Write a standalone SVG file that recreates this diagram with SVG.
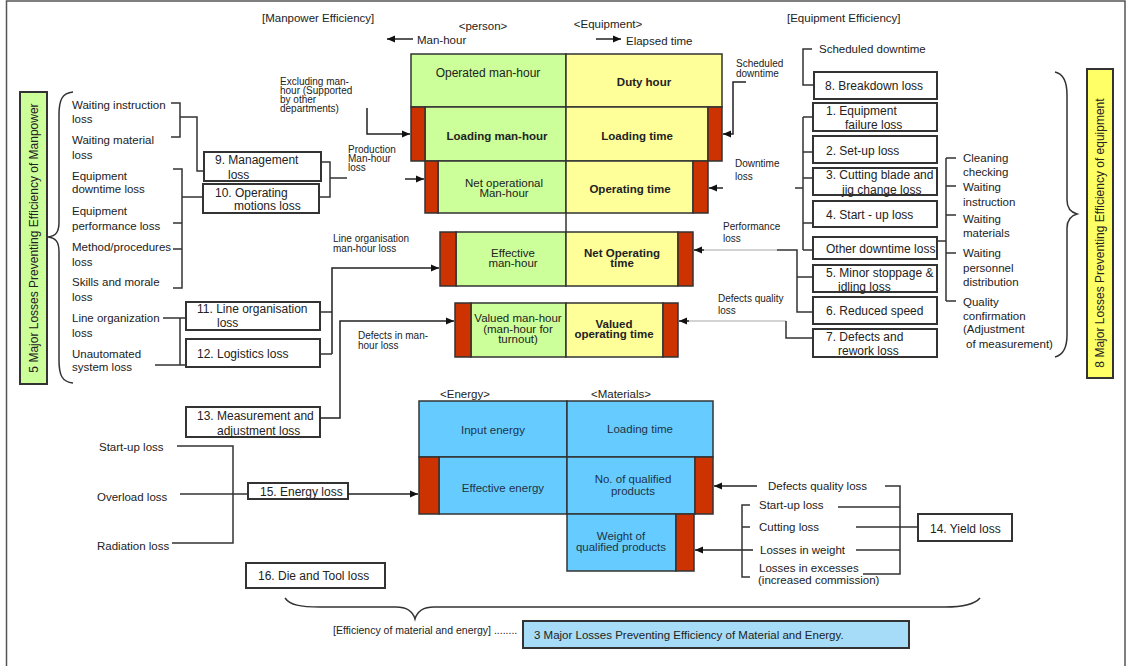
<svg xmlns="http://www.w3.org/2000/svg" width="1127" height="666" viewBox="0 0 1127 666">
  <style>
    text { font-family: "Liberation Sans", Arial, sans-serif; fill: #222; }
    .t { font-size: 11.5px; }
    .s { font-size: 10px; }
    .b { font-size: 12px; }
    .c { text-anchor: middle; }
    .bold { font-weight: bold; }
    .box { fill: #fff; stroke: #333; stroke-width: 2; }
    .g { fill: #ccff99; stroke: #333; stroke-width: 1.5; }
    .y { fill: #ffff99; stroke: #333; stroke-width: 1.5; }
    .r { fill: #cc3300; stroke: #333; stroke-width: 1.5; }
    .bl { fill: #66ccff; stroke: #333; stroke-width: 1.5; }
    .blt { fill: #1f3347; font-size: 11.5px; text-anchor: middle; }
    .ln { fill: none; stroke: #333; stroke-width: 1.5; }
    .gr { fill: none; stroke: #c4c4c4; stroke-width: 1.5; }
    .ar { fill: none; stroke: #222; stroke-width: 1.5; marker-end: url(#ah); }
  </style>
  <defs>
    <marker id="ah" viewBox="0 0 10 10" refX="10" refY="5" markerWidth="9" markerHeight="8" markerUnits="userSpaceOnUse" orient="auto">
      <path d="M0,0.5 L10,5 L0,9.5z" fill="#111"/>
    </marker>
  </defs>

  <rect width="1127" height="666" fill="#fff"/>
  <rect x="6.5" y="1" width="1118.5" height="680" fill="none" stroke="#555" stroke-width="1.5"/>

  <!-- headings -->
  <g id="headings">
    <text class="t" x="262" y="22">[Manpower Efficiency]</text>
    <text class="t" x="787" y="22">[Equipment Efficiency]</text>
    <text class="t c" x="483" y="30">&lt;person&gt;</text>
    <text class="t c" x="608" y="28">&lt;Equipment&gt;</text>
    <text class="t" x="417" y="44">Man-hour</text>
    <text class="t" x="626" y="45">Elapsed time</text>
  </g>

  <!-- manpower / equipment time table -->
  <g id="row-duty">
    <rect class="g" x="411" y="54" width="155" height="53"/>
    <rect class="y" x="566" y="54" width="156" height="53"/>
    <text class="b c" x="488" y="77">Operated man-hour</text>
    <text class="t c bold" x="644" y="86">Duty hour</text>
  </g>
  <g id="row-loading">
    <rect class="g" x="425" y="107" width="141" height="54"/>
    <rect class="y" x="566" y="107" width="142" height="54"/>
    <rect class="r" x="411" y="107" width="14" height="54"/>
    <rect class="r" x="708" y="107" width="14" height="54"/>
    <text class="t c bold" x="497" y="140">Loading man-hour</text>
    <text class="t c bold" x="637" y="140">Loading time</text>
  </g>
  <g id="row-operating">
    <rect class="g" x="438" y="161" width="128" height="52"/>
    <rect class="y" x="566" y="161" width="127" height="52"/>
    <rect class="r" x="425" y="161" width="13" height="52"/>
    <rect class="r" x="693" y="161" width="15" height="52"/>
    <text class="t c" x="504" y="187">Net operational</text>
    <text class="t c" x="504" y="197">Man-hour</text>
    <text class="t c bold" x="630" y="193">Operating time</text>
  </g>
  <g id="row-effective">
    <rect class="g" x="456" y="232" width="110" height="54"/>
    <rect class="y" x="566" y="232" width="112" height="54"/>
    <rect class="r" x="440" y="232" width="16" height="54"/>
    <rect class="r" x="678" y="232" width="15" height="54"/>
    <text class="t c" x="513" y="257">Effective</text>
    <text class="t c" x="513" y="267">man-hour</text>
    <text class="t c bold" x="622" y="257">Net Operating</text>
    <text class="t c bold" x="622" y="267">time</text>
  </g>
  <g id="row-valued">
    <rect class="g" x="471" y="303" width="95" height="54"/>
    <rect class="y" x="566" y="303" width="97" height="54"/>
    <rect class="r" x="455" y="303" width="16" height="54"/>
    <rect class="r" x="663" y="303" width="15" height="54"/>
    <text class="t c" x="518" y="322">Valued man-hour</text>
    <text class="t c" x="518" y="333">(man-hour for</text>
    <text class="t c" x="518" y="343">turnout)</text>
    <text class="t c bold" x="614" y="328">Valued</text>
    <text class="t c bold" x="614" y="338">operating time</text>
  </g>

  <!-- energy / materials table -->
  <g id="energy-table">
    <text class="t c" x="465" y="398">&lt;Energy&gt;</text>
    <text class="t c" x="621" y="398">&lt;Materials&gt;</text>
    <rect class="bl" x="419" y="401" width="148" height="56"/>
    <rect class="bl" x="567" y="401" width="146" height="56"/>
    <rect class="bl" x="439" y="457" width="128" height="57"/>
    <rect class="bl" x="567" y="457" width="128" height="57"/>
    <rect class="r" x="419" y="457" width="20" height="57"/>
    <rect class="r" x="695" y="457" width="18" height="57"/>
    <rect class="bl" x="567" y="514" width="109" height="57"/>
    <rect class="r" x="676" y="514" width="18" height="57"/>
    <text class="blt" x="493" y="434">Input energy</text>
    <text class="blt" x="640" y="433">Loading time</text>
    <text class="blt" x="503" y="492">Effective energy</text>
    <text class="blt" x="633" y="483">No. of qualified</text>
    <text class="blt" x="633" y="495">products</text>
    <text class="blt" x="621" y="540">Weight of</text>
    <text class="blt" x="621" y="551">qualified products</text>
  </g>

  <!-- side labels -->
  <g id="label-manpower">
    <rect x="20" y="92" width="27" height="292" fill="#ccff99" stroke="#333" stroke-width="2"/>
    <text class="b c" transform="translate(38,238) rotate(-90)">5 Major Losses Preventing Efficiency of Manpower</text>
  </g>
  <g id="label-equipment">
    <rect x="1087" y="69" width="26" height="309" fill="#ffff66" stroke="#333" stroke-width="2"/>
    <text class="b c" transform="translate(1104,233) rotate(-90)">8 Major Losses Preventing Efficiency of equipment</text>
  </g>
  <g id="label-material">
    <rect x="523" y="621" width="386" height="27" fill="#a6dcf7" stroke="#333" stroke-width="2"/>
    <text class="t" x="534" y="639">3 Major Losses Preventing Efficiency of Material and Energy.</text>
    <text x="333" y="634" font-size="10.5">[Efficiency of material and energy] ........</text>
  </g>

  <!-- manpower loss list -->
  <g id="manpower-causes">
    <text class="t" x="72" y="109">Waiting instruction</text>
    <text class="t" x="72" y="123">loss</text>
    <text class="t" x="72" y="144">Waiting material</text>
    <text class="t" x="72" y="159">loss</text>
    <text class="t" x="72" y="180">Equipment</text>
    <text class="t" x="72" y="193">downtime loss</text>
    <text class="t" x="72" y="215">Equipment</text>
    <text class="t" x="72" y="230">performance loss</text>
    <text class="t" x="72" y="251">Method/procedures</text>
    <text class="t" x="72" y="266">loss</text>
    <text class="t" x="72" y="286">Skills and morale</text>
    <text class="t" x="72" y="301">loss</text>
    <text class="t" x="72" y="322">Line organization</text>
    <text class="t" x="72" y="337">loss</text>
    <text class="t" x="72" y="358">Unautomated</text>
    <text class="t" x="72" y="371">system loss</text>
  </g>

  <g id="loss-9">
    <rect class="box" x="204" y="152" width="117" height="29"/>
    <text class="b" x="215" y="164">9. Management</text>
    <text class="b" x="228" y="179">loss</text>
  </g>
  <g id="loss-10">
    <rect class="box" x="203" y="184" width="116" height="29"/>
    <text class="b" x="215" y="197">10. Operating</text>
    <text class="b" x="234" y="210">motions loss</text>
  </g>
  <g id="loss-11">
    <rect class="box" x="186" y="302" width="134" height="28"/>
    <text class="b" x="197" y="313">11. Line organisation</text>
    <text class="b" x="217" y="327">loss</text>
  </g>
  <g id="loss-12">
    <rect class="box" x="186" y="339" width="134" height="28"/>
    <text class="b" x="197" y="358">12. Logistics loss</text>
  </g>
  <g id="loss-13">
    <rect class="box" x="186" y="407" width="134" height="30"/>
    <text class="b" x="197" y="420">13. Measurement and</text>
    <text class="b" x="217" y="435">adjustment loss</text>
  </g>
  <g id="loss-15">
    <rect class="box" x="248" y="483" width="100" height="16"/>
    <text class="b" x="260" y="496">15. Energy loss</text>
  </g>
  <g id="loss-16">
    <rect class="box" x="246" y="563" width="139" height="25"/>
    <text class="b" x="258" y="580">16. Die and Tool  loss</text>
  </g>

  <g id="energy-causes">
    <text class="t" x="99" y="451">Start-up loss</text>
    <text class="t" x="97" y="501">Overload loss</text>
    <text class="t" x="97" y="550">Radiation loss</text>
  </g>

  <!-- equipment loss boxes -->
  <g id="loss-8">
    <rect class="box" x="814" y="72" width="123" height="27"/>
    <text class="b" x="825" y="90">8. Breakdown loss</text>
  </g>
  <g id="loss-1">
    <rect class="box" x="813" y="103" width="124" height="28"/>
    <text class="b" x="826" y="115">1. Equipment</text>
    <text class="b" x="845" y="129">failure loss</text>
  </g>
  <g id="loss-2">
    <rect class="box" x="813" y="136" width="124" height="27"/>
    <text class="b" x="826" y="155">2. Set-up loss</text>
  </g>
  <g id="loss-3">
    <rect class="box" x="813" y="168" width="124" height="27"/>
    <text class="b" x="826" y="179">3. Cutting blade and</text>
    <text class="b" x="842" y="194">jig change loss</text>
  </g>
  <g id="loss-4">
    <rect class="box" x="813" y="201" width="124" height="26"/>
    <text class="b" x="826" y="219">4. Start - up loss</text>
  </g>
  <g id="loss-other">
    <rect class="box" x="813" y="237" width="124" height="22"/>
    <text class="b" x="826" y="253">Other downtime loss</text>
  </g>
  <g id="loss-5">
    <rect class="box" x="813" y="265" width="124" height="27"/>
    <text class="b" x="826" y="277">5. Minor stoppage &amp;</text>
    <text class="b" x="838" y="291">idling loss</text>
  </g>
  <g id="loss-6">
    <rect class="box" x="813" y="297" width="124" height="27"/>
    <text class="b" x="826" y="315">6. Reduced speed</text>
  </g>
  <g id="loss-7">
    <rect class="box" x="813" y="329" width="124" height="28"/>
    <text class="b" x="826" y="341">7. Defects and</text>
    <text class="b" x="838" y="355">rework loss</text>
  </g>

  <g id="downtime-causes">
    <text class="t" x="819" y="53">Scheduled downtime</text>
    <text class="t" x="963" y="162">Cleaning</text>
    <text class="t" x="963" y="176">checking</text>
    <text class="t" x="963" y="191">Waiting</text>
    <text class="t" x="963" y="206">instruction</text>
    <text class="t" x="963" y="223">Waiting</text>
    <text class="t" x="963" y="237">materials</text>
    <text class="t" x="963" y="257">Waiting</text>
    <text class="t" x="963" y="272">personnel</text>
    <text class="t" x="963" y="286">distribution</text>
    <text class="t" x="963" y="306">Quality</text>
    <text class="t" x="963" y="320">confirmation</text>
    <text class="t" x="963" y="333">(Adjustment</text>
    <text class="t" x="966" y="348">of measurement)</text>
  </g>

  <g id="loss-14">
    <rect class="box" x="918" y="514" width="94" height="27"/>
    <text class="b" x="930" y="533">14. Yield loss</text>
  </g>
  <g id="material-causes">
    <text class="t" x="768" y="490">Defects quality loss</text>
    <text class="t" x="759" y="509">Start-up loss</text>
    <text class="t" x="759" y="531">Cutting loss</text>
    <text class="t" x="760" y="554">Losses in weight</text>
    <text class="t" x="759" y="572">Losses in excesses</text>
    <text class="t" x="758" y="584">(increased commission)</text>
  </g>

  <!-- connector labels -->
  <g id="connector-labels">
    <text class="s" x="280" y="85">Excluding man-</text>
    <text class="s" x="280" y="94">hour (Supported</text>
    <text class="s" x="280" y="103">by other</text>
    <text class="s" x="280" y="112">departments)</text>
    <text class="s" x="348" y="153">Production</text>
    <text class="s" x="348" y="162">Man-hour</text>
    <text class="s" x="348" y="171">loss</text>
    <text class="s" x="333" y="242">Line organisation</text>
    <text class="s" x="333" y="252">man-hour loss</text>
    <text class="s" x="358" y="339">Defects in man-</text>
    <text class="s" x="358" y="349">hour loss</text>
    <text class="s" x="736" y="67">Scheduled</text>
    <text class="s" x="736" y="77">downtime</text>
    <text class="s" x="735" y="167">Downtime</text>
    <text class="s" x="735" y="180">loss</text>
    <text class="s" x="723" y="230">Performance</text>
    <text class="s" x="723" y="242">loss</text>
    <text class="s" x="718" y="302">Defects quality</text>
    <text class="s" x="718" y="314">loss</text>
  </g>

  <!-- connectors -->
  <g id="connectors">
    <!-- axis arrows -->
    <path class="ar" d="M413,39 H387"/>
    <path class="ar" d="M596,39 H621"/>
    <!-- column divider between rows -->
    <path class="ln" d="M566,213 V232"/>

    <!-- manpower side -->
    <path class="ln" d="M171,103 H180 V137 H171"/>
    <path class="ln" d="M180,117 H197 V171 H204"/>
    <path class="ln" d="M173,169 H182 V288 H173 M173,223 H182 M173,249 H182 M182,197 H203"/>
    <path class="ln" d="M321,162 H330 V197 H319 M330,178 H347"/>
    <path class="ar" d="M405,179 H424"/>
    <path class="ar" d="M367,108 V134 H410"/>
    <path class="ln" d="M163,318 H186 M180,318 V365 M155,365 H186"/>
    <path class="ln" d="M320,312 H332 M320,354 H332"/>
    <path class="ar" d="M332,354 V268 H439"/>
    <path class="ar" d="M320,418 H340 V321 H454"/>

    <!-- energy side -->
    <path class="ln" d="M177,446 H233 V543 H172"/>
    <path class="ln" d="M180,494 H248"/>
    <path class="ar" d="M348,494 H418"/>

    <!-- equipment side -->
    <path class="ar" d="M746,82 H733 V134 H723"/>
    <path class="ln" d="M812,49 H803 V85 H814"/>
    <path class="ar" d="M723,188 H709"/>
    <path class="ln" d="M795,188 H803 M803,117 V250 M803,117 H813 M803,152 H813 M803,178 H813 M803,223 H813 M803,250 H813"/>
    <path class="gr" d="M777,250 H700"/>
    <path class="ar" d="M704,250 H694"/>
    <path class="ln" d="M777,250 H797 V312 H813 M797,277 H813"/>
    <path class="gr" d="M786,321 H684"/>
    <path class="ar" d="M689,321 H679"/>
    <path class="ln" d="M786,321 V338 H813"/>
    <path class="ln" d="M937,241 H946 M946,158 V301 M946,158 H956 M946,186 H956 M946,215 H956 M946,253 H956 M946,301 H956"/>

    <!-- materials side -->
    <path class="ar" d="M757,486 H714"/>
    <path class="ar" d="M753,550 H695"/>
    <path class="ln" d="M885,486 H900 V574 H863 M838,507 H900 M856,527 H918 M856,550 H900"/>
    <path class="ln" d="M750,505 H742 V577 H750 M742,527 H750"/>

    <!-- braces -->
    <path class="ln" d="M73,92 C62,93 59,100 59,115 L59,222 C59,232 56,236 48,237 C56,238 59,242 59,252 L59,360 C59,375 62,382 73,383"/>
    <path class="ln" d="M1055,72 C1064,74 1067,82 1067,95 L1067,200 C1067,208 1070,212 1077,214 C1070,216 1067,220 1067,228 L1067,335 C1067,348 1063,355 1055,357"/>
    <path class="ln" d="M285,598 C290,605 300,607 320,607 L396,607 C408,607 413,612 415,619 C417,612 422,607 434,607 L945,607 C965,607 975,604 980,598"/>
  </g>
</svg>
